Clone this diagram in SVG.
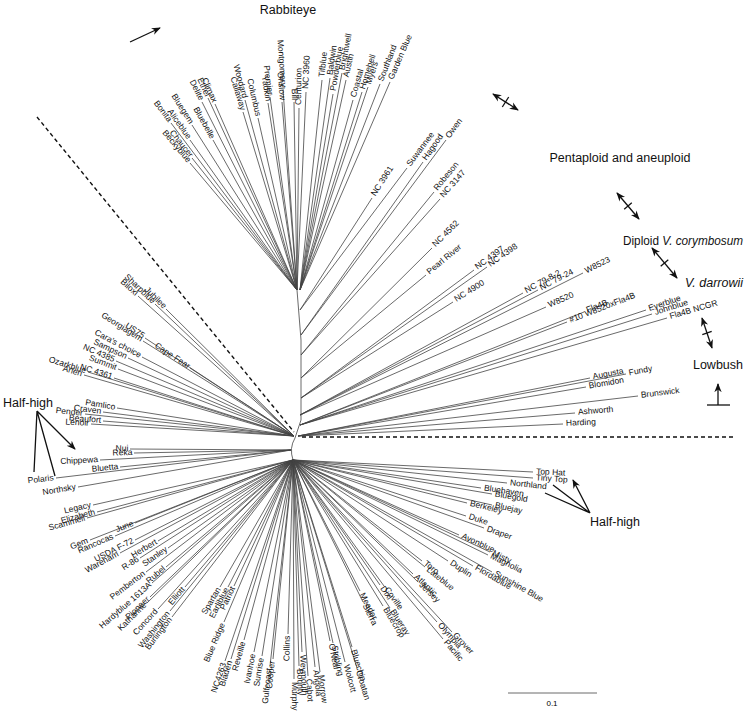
<svg xmlns="http://www.w3.org/2000/svg" xmlns:xlink="http://www.w3.org/1999/xlink" width="746" height="713" viewBox="0 0 746 713">
<style>
.l{stroke:#444;stroke-width:0.8;fill:none}
.t{font-family:"Liberation Sans",Arial,sans-serif;font-size:8.5px;fill:#111;dominant-baseline:middle}
.tl{text-anchor:end}
.h{font-family:"Liberation Sans",Arial,sans-serif;font-size:12.5px;fill:#111}
.a{stroke:#111;stroke-width:1.3;fill:none}
.d{stroke:#111;stroke-width:1.4;stroke-dasharray:4,3;fill:none}
</style>
<defs>
<marker id="ah" viewBox="0 0 10 10" refX="9" refY="5" markerWidth="7" markerHeight="7" orient="auto-start-reverse"><path d="M0,1 L10,5 L0,9 L3,5 Z" fill="#111"/></marker>
<path id="p1" d="M83,36L190,163"/><path id="p2" d="M87,26L192,158"/><path id="p3" d="M45,-44L171,123"/><path id="p4" d="M83,-10L190,140"/><path id="p5" d="M87,-40L192,125"/><path id="p6" d="M107,-86L202,102"/><path id="p7" d="M129,-10L213,140"/><path id="p8" d="M119,-94L208,98"/><path id="p9" d="M133,-82L215,104"/><path id="p10" d="M189,-66L243,112"/><path id="p11" d="M193,-90L245,100"/><path id="p12" d="M219,-54L258,118"/><path id="p13" d="M239,-84L268,103"/><path id="p14" d="M243,-96L270,97"/><path id="p15" d="M267,-86L282,102"/><path id="p16" d="M269,-112L283,89"/><path id="p17" d="M291,-86L294,102"/><path id="p18" d="M299,108L301,-74"/><path id="p19" d="M306,92L315,-106"/>
<path id="p20" d="M322,80L344,-130"/><path id="p21" d="M330,78L360,-134"/><path id="p22" d="M333,94L366,-102"/><path id="p23" d="M342,73L384,-144"/><path id="p24" d="M346,80L392,-130"/><path id="p25" d="M353,100L406,-90"/><path id="p26" d="M362,92L424,-106"/><path id="p27" d="M368,87L436,-116"/><path id="p28" d="M380,84L460,-122"/><path id="p29" d="M390,82L480,-126"/>
<path id="p30" d="M372,198L444,86"/><path id="p31" d="M407,168L514,26"/><path id="p32" d="M423,162L545,-11"/><path id="p33" d="M446,140L591,-55"/><path id="p34" d="M434,192L567,29"/><path id="p35" d="M440,199L579,43"/><path id="p36" d="M432,248L563,118"/><path id="p37" d="M426,275L551,172"/><path id="p38" d="M474,270L647,142"/><path id="p39" d="M487,267L673,136"/><path id="p40" d="M453,302L605,206"/><path id="p41" d="M523,293L746,171"/><path id="p42" d="M538,290L776,165"/><path id="p43" d="M583,273L866,131"/><path id="p44" d="M546,307L792,199"/><path id="p45" d="M584,312L868,199"/><path id="p46" d="M567,322L834,219"/><path id="p47" d="M646,310L992,195"/><path id="p48" d="M652,314L1004,203"/><path id="p49" d="M667,318L1034,211"/>
<path id="p50" d="M590,378L882,320"/><path id="p51" d="M626,374L954,312"/><path id="p52" d="M586,387L874,338"/><path id="p53" d="M638,396L978,356"/><path id="p54" d="M575,413L852,390"/><path id="p55" d="M563,424L828,412"/>
<path id="p56" d="M38,182L166,309"/><path id="p57" d="M16,172L155,304"/><path id="p58" d="M-18,156L138,296"/><path id="p59" d="M86,300L190,368"/><path id="p60" d="M-4,240L145,338"/><path id="p61" d="M-8,246L143,341"/><path id="p62" d="M-10,278L142,357"/><path id="p63" d="M-38,280L128,358"/><path id="p64" d="M-62,286L116,361"/><path id="p65" d="M-58,302L118,369"/><path id="p66" d="M-66,320L114,378"/><path id="p67" d="M-118,308L88,372"/><path id="p68" d="M-126,314L84,375"/><path id="p69" d="M-60,380L117,408"/><path id="p70" d="M-88,388L103,412"/><path id="p71" d="M-124,392L85,414"/><path id="p72" d="M-88,406L103,421"/><path id="p73" d="M-112,412L91,424"/>
<path id="p74" d="M-31,448L130,449"/><path id="p75" d="M-23,456L134,453"/><path id="p76" d="M-91,470L100,460"/><path id="p77" d="M-51,484L120,467"/><path id="p78" d="M-179,506L56,478"/><path id="p79" d="M-135,524L78,487"/>
<path id="p80" d="M-107,550L93,505"/><path id="p81" d="M-99,564L97,512"/><path id="p82" d="M-119,576L87,518"/><path id="p83" d="M-23,586L135,523"/><path id="p84" d="M-113,620L90,540"/><path id="p85" d="M-63,612L115,536"/><path id="p86" d="M-23,620L135,540"/><path id="p87" d="M-53,646L120,553"/><path id="p88" d="M23,622L158,541"/><path id="p89" d="M-13,656L140,558"/><path id="p90" d="M43,636L168,548"/><path id="p91" d="M-1,684L146,572"/><path id="p92" d="M39,674L166,567"/><path id="p93" d="M11,706L152,583"/><path id="p94" d="M7,734L150,597"/><path id="p95" d="M1,746L147,603"/><path id="p96" d="M23,758L158,609"/><path id="p97" d="M77,714L185,587"/><path id="p98" d="M47,762L170,611"/><path id="p99" d="M51,774L172,617"/>
<path id="p100" d="M147,714L220,587"/><path id="p101" d="M163,714L228,587"/><path id="p102" d="M175,712L234,586"/><path id="p103" d="M155,784L224,622"/><path id="p104" d="M157,862L225,661"/><path id="p105" d="M169,858L231,659"/><path id="p106" d="M195,820L244,640"/><path id="p107" d="M215,844L254,652"/><path id="p108" d="M231,852L262,656"/><path id="p109" d="M247,872L270,666"/><path id="p110" d="M253,858L273,659"/><path id="p111" d="M283,808L288,634"/>
<path id="p112" d="M294,679L295,898"/><path id="p113" d="M299,666L305,872"/><path id="p114" d="M302,652L311,844"/><path id="p115" d="M308,676L323,892"/><path id="p116" d="M315,667L337,874"/><path id="p117" d="M320,672L347,884"/><path id="p118" d="M330,641L367,822"/><path id="p119" d="M333,643L373,826"/><path id="p120" d="M345,662L397,864"/><path id="p121" d="M352,647L411,834"/><path id="p122" d="M357,668L421,876"/><path id="p123" d="M360,591L427,722"/><path id="p124" d="M363,602L433,744"/><path id="p125" d="M380,585L467,710"/><path id="p126" d="M384,586L475,712"/><path id="p127" d="M383,606L473,752"/><path id="p128" d="M390,608L487,756"/><path id="p129" d="M413,574L533,688"/><path id="p130" d="M418,582L543,704"/><path id="p131" d="M422,561L551,662"/><path id="p132" d="M425,567L557,674"/><path id="p133" d="M448,561L603,662"/><path id="p134" d="M473,566L653,672"/><path id="p135" d="M437,622L581,784"/><path id="p136" d="M443,639L593,818"/><path id="p137" d="M452,632L611,804"/><path id="p138" d="M492,572L691,684"/><path id="p139" d="M488,555L683,650"/><path id="p140" d="M490,552L687,644"/><path id="p141" d="M459,535L625,610"/><path id="p142" d="M484,528L675,596"/><path id="p143" d="M466,516L639,572"/><path id="p144" d="M467,503L641,546"/><path id="p145" d="M492,505L691,550"/><path id="p146" d="M492,494L691,528"/><path id="p147" d="M481,488L669,516"/><path id="p148" d="M507,483L721,506"/><path id="p149" d="M533,478L773,496"/><path id="p150" d="M533,472L773,484"/>
</defs>
<rect width="746" height="713" fill="#fff"/>
<g id="connectors" class="l">
<path d="M293,460 Q289,448 295,438 L301,420 L301,340 L297,290"/>
<path d="M297,290L190,163M297,290L192,158M297,290L171,123M297,290L190,140M297,290L192,125M297,290L202,102M297,290L213,140M297,290L208,98M297,290L215,104M297,290L243,112M297,290L245,100M297,290L258,118M297,290L268,103M297,290L270,97M297,290L282,102M297,290L283,89M297,290L294,102M297,290L299,108M297,290L306,92"/>
<path d="M300,290L322,80M300,290L330,78M300,290L333,94M300,290L342,73M300,290L346,80M300,290L353,100M300,290L362,92M300,290L368,87M300,290L380,84M300,290L390,82"/>
<path d="M300,310L372,198M300,310L407,168M301,335L423,162M301,335L446,140M301,355L434,192M301,355L440,199M301,378L432,248M301,378L426,275M301,398L474,270M301,398L487,267M301,398L453,302M300,415L523,293M300,415L538,290M300,415L583,273M300,415L546,307M300,425L584,312M300,425L567,322M300,425L646,310M300,425L652,314M300,425L667,318"/>
<path d="M298,436L590,378M298,436L626,374M298,436L586,387M298,436L638,396M298,436L575,413M298,436L563,424"/>
<path d="M294,436L166,309M294,436L155,304M294,436L138,296M294,436L190,368M294,436L145,338M294,436L143,341M294,436L142,357M294,436L128,358M294,436L116,361M294,436L118,369M294,436L114,378M294,436L88,372M294,436L84,375M294,436L117,408M294,436L103,412M294,436L85,414M294,436L103,421M294,436L91,424"/>
<path d="M291,450L130,449M291,450L134,453M291,450L100,460M291,450L120,467M291,450L56,478M291,450L78,487"/>
<path d="M293,460L93,505M293,460L97,512M293,460L87,518M293,460L135,523M293,460L90,540M293,460L115,536M293,460L135,540M293,460L120,553M293,460L158,541M293,460L140,558M293,460L168,548M293,460L146,572M293,460L166,567M293,460L152,583M293,460L150,597M293,460L147,603M293,460L158,609M293,460L185,587M293,460L170,611M293,460L172,617M293,460L220,587M293,460L228,587M293,460L234,586M293,460L224,622M293,460L225,661M293,460L231,659M293,460L244,640M293,460L254,652M293,460L262,656M293,460L270,666M293,460L273,659M293,460L288,634"/>
<path d="M293,460L294,679M293,460L299,666M293,460L302,652M293,460L308,676M293,460L315,667M293,460L320,672M293,460L330,641M293,460L333,643M293,460L345,662M293,460L352,647M293,460L357,668M293,460L360,591M293,460L363,602M293,460L380,585M293,460L384,586M293,460L383,606M293,460L390,608M293,460L413,574M293,460L418,582M293,460L422,561M293,460L425,567M293,460L448,561M293,460L473,566M293,460L437,622M293,460L443,639M293,460L452,632M293,460L492,572M293,460L488,555M293,460L490,552M293,460L459,535M293,460L484,528M293,460L466,516M293,460L467,503M293,460L492,505M293,460L492,494M293,460L481,488M293,460L507,483M293,460L533,478M293,460L533,472"/>
</g>
<g id="leaves-left" class="t tl">
<text id="n1"><textPath href="#p1" startOffset="99%">Beckyblue</textPath></text>
<text id="n2"><textPath href="#p2" startOffset="99%">Chaucer</textPath></text>
<text id="n3"><textPath href="#p3" startOffset="99%">Bonita</textPath></text>
<text id="n4"><textPath href="#p4" startOffset="99%">Aliceblue</textPath></text>
<text id="n5"><textPath href="#p5" startOffset="99%">Bluegem</textPath></text>
<text id="n6"><textPath href="#p6" startOffset="99%">Delite</textPath></text>
<text id="n7"><textPath href="#p7" startOffset="99%">Bluebelle</textPath></text>
<text id="n8"><textPath href="#p8" startOffset="99%">Ethel</textPath></text>
<text id="n9"><textPath href="#p9" startOffset="99%">Climax</textPath></text>
<text id="n10"><textPath href="#p10" startOffset="99%">Callaway</textPath></text>
<text id="n11"><textPath href="#p11" startOffset="99%">Woodard</textPath></text>
<text id="n12"><textPath href="#p12" startOffset="99%">Columbus</textPath></text>
<text id="n13"><textPath href="#p13" startOffset="99%">Yadkin</textPath></text>
<text id="n14"><textPath href="#p14" startOffset="99%">Premier</textPath></text>
<text id="n15"><textPath href="#p15" startOffset="99%">Onslow</textPath></text>
<text id="n16"><textPath href="#p16" startOffset="99%">Montgomery</textPath></text>
<text id="n17"><textPath href="#p17" startOffset="99%">Bill</textPath></text>
<text id="n56"><textPath href="#p56" startOffset="99%">Jubilee</textPath></text>
<text id="n57"><textPath href="#p57" startOffset="99%">Sharpblue</textPath></text>
<text id="n58"><textPath href="#p58" startOffset="99%">Biloxi</textPath></text>
<text id="n59"><textPath href="#p59" startOffset="99%">Cape Fear</textPath></text>
<text id="n60"><textPath href="#p60" startOffset="99%">US75</textPath></text>
<text id="n61"><textPath href="#p61" startOffset="99%">Georgiagem</textPath></text>
<text id="n62"><textPath href="#p62" startOffset="99%">Cara's choice</textPath></text>
<text id="n63"><textPath href="#p63" startOffset="99%">Sampson</textPath></text>
<text id="n64"><textPath href="#p64" startOffset="99%">NC 4385</textPath></text>
<text id="n65"><textPath href="#p65" startOffset="99%">Summit</textPath></text>
<text id="n66"><textPath href="#p66" startOffset="99%">NC 4361</textPath></text>
<text id="n67"><textPath href="#p67" startOffset="99%">Ozarkblue</textPath></text>
<text id="n68"><textPath href="#p68" startOffset="99%">Arlen</textPath></text>
<text id="n69"><textPath href="#p69" startOffset="99%">Pamlico</textPath></text>
<text id="n70"><textPath href="#p70" startOffset="99%">Craven</textPath></text>
<text id="n71"><textPath href="#p71" startOffset="99%">Pender</textPath></text>
<text id="n72"><textPath href="#p72" startOffset="99%">Beaufort</textPath></text>
<text id="n73"><textPath href="#p73" startOffset="99%">Lenoir</textPath></text>
<text id="n74"><textPath href="#p74" startOffset="99%">Nui</textPath></text>
<text id="n75"><textPath href="#p75" startOffset="99%">Reka</textPath></text>
<text id="n76"><textPath href="#p76" startOffset="99%">Chippewa</textPath></text>
<text id="n77"><textPath href="#p77" startOffset="99%">Bluetta</textPath></text>
<text id="n78"><textPath href="#p78" startOffset="99%">Polaris</textPath></text>
<text id="n79"><textPath href="#p79" startOffset="99%">Northsky</textPath></text>
<text id="n80"><textPath href="#p80" startOffset="99%">Legacy</textPath></text>
<text id="n81"><textPath href="#p81" startOffset="99%">Elizabeth</textPath></text>
<text id="n82"><textPath href="#p82" startOffset="99%">Scammell</textPath></text>
<text id="n83"><textPath href="#p83" startOffset="99%">June</textPath></text>
<text id="n84"><textPath href="#p84" startOffset="99%">Gem</textPath></text>
<text id="n85"><textPath href="#p85" startOffset="99%">Rancocas</textPath></text>
<text id="n86"><textPath href="#p86" startOffset="99%">USDA F-72</textPath></text>
<text id="n87"><textPath href="#p87" startOffset="99%">Wareham</textPath></text>
<text id="n88"><textPath href="#p88" startOffset="99%">Herbert</textPath></text>
<text id="n89"><textPath href="#p89" startOffset="99%">R-86</textPath></text>
<text id="n90"><textPath href="#p90" startOffset="99%">Stanley</textPath></text>
<text id="n91"><textPath href="#p91" startOffset="99%">Pemberton</textPath></text>
<text id="n92"><textPath href="#p92" startOffset="99%">Rubel</textPath></text>
<text id="n93"><textPath href="#p93" startOffset="99%">Hardyblue 1613A</textPath></text>
<text id="n94"><textPath href="#p94" startOffset="99%">Pioneer</textPath></text>
<text id="n95"><textPath href="#p95" startOffset="99%">Katharine</textPath></text>
<text id="n96"><textPath href="#p96" startOffset="99%">Concord</textPath></text>
<text id="n97"><textPath href="#p97" startOffset="99%">Elliott</textPath></text>
<text id="n98"><textPath href="#p98" startOffset="99%">Washington</textPath></text>
<text id="n99"><textPath href="#p99" startOffset="99%">Burlington</textPath></text>
<text id="n100"><textPath href="#p100" startOffset="99%">Spartan</textPath></text>
<text id="n101"><textPath href="#p101" startOffset="99%">Earliblue</textPath></text>
<text id="n102"><textPath href="#p102" startOffset="99%">Patriot</textPath></text>
<text id="n103"><textPath href="#p103" startOffset="99%">Blue Ridge</textPath></text>
<text id="n104"><textPath href="#p104" startOffset="99%">NC4263</textPath></text>
<text id="n105"><textPath href="#p105" startOffset="99%">Bladen</textPath></text>
<text id="n106"><textPath href="#p106" startOffset="99%">Reveille</textPath></text>
<text id="n107"><textPath href="#p107" startOffset="99%">Ivanhoe</textPath></text>
<text id="n108"><textPath href="#p108" startOffset="99%">Sunrise</textPath></text>
<text id="n109"><textPath href="#p109" startOffset="99%">Gulfcoast</textPath></text>
<text id="n110"><textPath href="#p110" startOffset="99%">Cooper</textPath></text>
<text id="n111"><textPath href="#p111" startOffset="99%">Collins</textPath></text>
</g>
<g id="leaves-right" class="t">
<text id="n18"><textPath href="#p18" startOffset="3">Centurion</textPath></text>
<text id="n19"><textPath href="#p19" startOffset="3">NC 3960</textPath></text>
<text id="n20"><textPath href="#p20" startOffset="3">Tifblue</textPath></text>
<text id="n21"><textPath href="#p21" startOffset="3">Baldwin</textPath></text>
<text id="n22"><textPath href="#p22" startOffset="3">Powderblue</textPath></text>
<text id="n23"><textPath href="#p23" startOffset="3">Brightwell</textPath></text>
<text id="n24"><textPath href="#p24" startOffset="3">Austin</textPath></text>
<text id="n25"><textPath href="#p25" startOffset="3">Coastal</textPath></text>
<text id="n26"><textPath href="#p26" startOffset="3">Homebell</textPath></text>
<text id="n27"><textPath href="#p27" startOffset="3">Myers</textPath></text>
<text id="n28"><textPath href="#p28" startOffset="3">Southland</textPath></text>
<text id="n29"><textPath href="#p29" startOffset="3">Garden Blue</textPath></text>
<text id="n30"><textPath href="#p30" startOffset="3">NC 3961</textPath></text>
<text id="n31"><textPath href="#p31" startOffset="3">Suwannee</textPath></text>
<text id="n32"><textPath href="#p32" startOffset="3">Hagood</textPath></text>
<text id="n33"><textPath href="#p33" startOffset="3">Owen</textPath></text>
<text id="n34"><textPath href="#p34" startOffset="3">Robeson</textPath></text>
<text id="n35"><textPath href="#p35" startOffset="3">NC 3147</textPath></text>
<text id="n36"><textPath href="#p36" startOffset="3">NC 4562</textPath></text>
<text id="n37"><textPath href="#p37" startOffset="3">Pearl River</textPath></text>
<text id="n38"><textPath href="#p38" startOffset="3">NC 4397</textPath></text>
<text id="n39"><textPath href="#p39" startOffset="3">NC 4398</textPath></text>
<text id="n40"><textPath href="#p40" startOffset="3">NC 4900</textPath></text>
<text id="n41"><textPath href="#p41" startOffset="3">NC 79-8-2</textPath></text>
<text id="n42"><textPath href="#p42" startOffset="3">NC 79-24</textPath></text>
<text id="n43"><textPath href="#p43" startOffset="3">W8523</textPath></text>
<text id="n44"><textPath href="#p44" startOffset="3">W8520</textPath></text>
<text id="n45"><textPath href="#p45" startOffset="3">Fla4B</textPath></text>
<text id="n46"><textPath href="#p46" startOffset="3">#10 W8520xFla4B</textPath></text>
<text id="n47"><textPath href="#p47" startOffset="3">Everblue</textPath></text>
<text id="n48"><textPath href="#p48" startOffset="3">Johnblue</textPath></text>
<text id="n49"><textPath href="#p49" startOffset="3">Fla4B NCGR</textPath></text>
<text id="n50"><textPath href="#p50" startOffset="3">Augusta</textPath></text>
<text id="n51"><textPath href="#p51" startOffset="3">Fundy</textPath></text>
<text id="n52"><textPath href="#p52" startOffset="3">Blomidon</textPath></text>
<text id="n53"><textPath href="#p53" startOffset="3">Brunswick</textPath></text>
<text id="n54"><textPath href="#p54" startOffset="3">Ashworth</textPath></text>
<text id="n55"><textPath href="#p55" startOffset="3">Harding</textPath></text>
<text id="n112"><textPath href="#p112" startOffset="3">Murphy</textPath></text>
<text id="n113"><textPath href="#p113" startOffset="3">Bounty</textPath></text>
<text id="n114"><textPath href="#p114" startOffset="3">Weymouth</textPath></text>
<text id="n115"><textPath href="#p115" startOffset="3">Cabot</textPath></text>
<text id="n116"><textPath href="#p116" startOffset="3">Angola</textPath></text>
<text id="n117"><textPath href="#p117" startOffset="3">Morrow</textPath></text>
<text id="n118"><textPath href="#p118" startOffset="3">O'Neal</textPath></text>
<text id="n119"><textPath href="#p119" startOffset="3">Stribling</textPath></text>
<text id="n120"><textPath href="#p120" startOffset="3">Wolcott</textPath></text>
<text id="n121"><textPath href="#p121" startOffset="3">Bluechip</textPath></text>
<text id="n122"><textPath href="#p122" startOffset="3">Croatan</textPath></text>
<text id="n123"><textPath href="#p123" startOffset="3">Meader</textPath></text>
<text id="n124"><textPath href="#p124" startOffset="3">Sierra</textPath></text>
<text id="n125"><textPath href="#p125" startOffset="3">Dixi</textPath></text>
<text id="n126"><textPath href="#p126" startOffset="3">Coville</textPath></text>
<text id="n127"><textPath href="#p127" startOffset="3">Bluecrop</textPath></text>
<text id="n128"><textPath href="#p128" startOffset="3">Blueray</textPath></text>
<text id="n129"><textPath href="#p129" startOffset="3">Atlantic</textPath></text>
<text id="n130"><textPath href="#p130" startOffset="3">Jersey</textPath></text>
<text id="n131"><textPath href="#p131" startOffset="3">Toro</textPath></text>
<text id="n132"><textPath href="#p132" startOffset="3">Lateblue</textPath></text>
<text id="n133"><textPath href="#p133" startOffset="3">Duplin</textPath></text>
<text id="n134"><textPath href="#p134" startOffset="3">Flordablue</textPath></text>
<text id="n135"><textPath href="#p135" startOffset="3">Olympia</textPath></text>
<text id="n136"><textPath href="#p136" startOffset="3">Pacific</textPath></text>
<text id="n137"><textPath href="#p137" startOffset="3">Grover</textPath></text>
<text id="n138"><textPath href="#p138" startOffset="3">Sunshine Blue</textPath></text>
<text id="n139"><textPath href="#p139" startOffset="3">Magnolia</textPath></text>
<text id="n140"><textPath href="#p140" startOffset="3">Misty</textPath></text>
<text id="n141"><textPath href="#p141" startOffset="3">Avonblue</textPath></text>
<text id="n142"><textPath href="#p142" startOffset="3">Draper</textPath></text>
<text id="n143"><textPath href="#p143" startOffset="3">Duke</textPath></text>
<text id="n144"><textPath href="#p144" startOffset="3">Berkeley</textPath></text>
<text id="n145"><textPath href="#p145" startOffset="3">Bluejay</textPath></text>
<text id="n146"><textPath href="#p146" startOffset="3">Bluegold</textPath></text>
<text id="n147"><textPath href="#p147" startOffset="3">Bluehaven</textPath></text>
<text id="n148"><textPath href="#p148" startOffset="3">Northland</textPath></text>
<text id="n149"><textPath href="#p149" startOffset="3">Tiny Top</textPath></text>
<text id="n150"><textPath href="#p150" startOffset="3">Top Hat</textPath></text>
</g>
<g id="annotations">
<path class="d" d="M37,117L294,432M302,437L735,437"/>
<text class="h" x="288" y="14" text-anchor="middle">Rabbiteye</text>
<path class="a" d="M130,42L160,28" marker-end="url(#ah)"/>
<path class="a" d="M493,94L518,110" marker-start="url(#ah)" marker-end="url(#ah)" stroke-width="1"/>
<path class="a" d="M502.3,107L508.7,97" stroke-width="0.7"/>
<text class="h" x="620" y="162" text-anchor="middle">Pentaploid and aneuploid</text>
<path class="a" d="M617,193L639,219" marker-start="url(#ah)" marker-end="url(#ah)" stroke-width="1"/>
<path class="a" d="M624.2,209.2L631.8,202.8" stroke-width="0.7"/>
<text class="h" x="743" y="245" text-anchor="end" textLength="120" lengthAdjust="spacingAndGlyphs">Diploid <tspan font-style="italic">V. corymbosum</tspan></text>
<path class="a" d="M652,248L677,278" marker-start="url(#ah)" marker-end="url(#ah)" stroke-width="1"/>
<path class="a" d="M660.7,266.2L668.3,259.8" stroke-width="0.7"/>
<text class="h" x="743" y="287" text-anchor="end" font-style="italic">V. darrowii</text>
<path class="a" d="M702,318L712,348" marker-start="url(#ah)" marker-end="url(#ah)" stroke-width="1"/>
<path class="a" d="M702.3,334.6L711.7,331.4" stroke-width="0.7"/>
<text class="h" x="743" y="369" text-anchor="end">Lowbush</text>
<path class="a" d="M718,405L718,384" marker-end="url(#ah)"/>
<path class="a" d="M707,405L730,405"/>
<text class="h" x="3" y="407">Half-high</text>
<path class="a" d="M37,411L34,472M37,411L55,476M37,411L75,449" marker-end="url(#ah)"/>
<text class="h" x="590" y="526">Half-high</text>
<path class="a" d="M590,513L545,493M590,513L553,485M590,513L573,480" marker-end="url(#ah)"/>
<path class="l" d="M508,693L597,693"/>
<text x="552" y="706" text-anchor="middle" font-family="Liberation Sans, Arial, sans-serif" font-size="8">0.1</text>
</g>
</svg>
